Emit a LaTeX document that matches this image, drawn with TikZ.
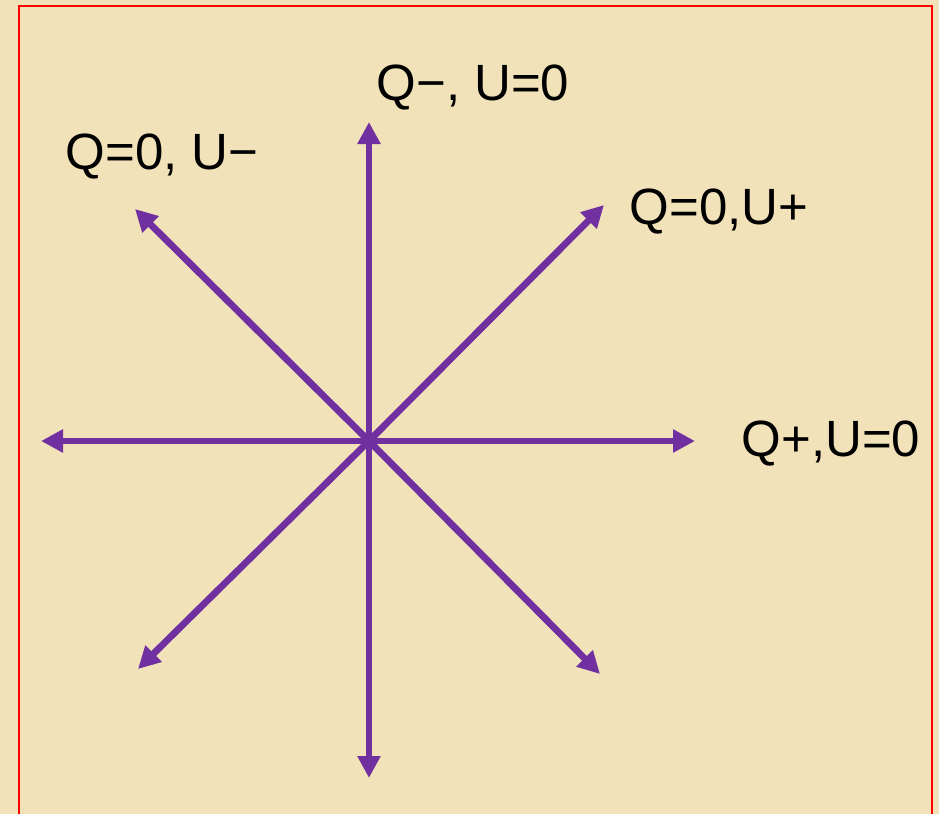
\documentclass[tikz,border=0pt]{standalone}
\usepackage{fontspec}
\setmainfont{Liberation Sans}
\usepackage{xcolor}
\usetikzlibrary{arrows.meta}
\definecolor{ppurple}{HTML}{7030A0}
\definecolor{pparch}{HTML}{F2E2BA}
\definecolor{pred}{HTML}{FF0000}

\begin{document}
\begin{tikzpicture}[
  x=0.5pt,y=-0.5pt,
  every node/.style={font=\fontsize{25.5}{30}\selectfont,inner sep=0pt},
  axis/.style={-{Triangle[length=11pt,width=11pt]},line width=3.4pt,color=ppurple},
  frame/.style={draw=pred,line width=1.2pt}
]
\fill[pparch] (0,0) rectangle (939,814);
\useasboundingbox (0,0) rectangle (939,814);
\draw[frame] (19,814) -- (19,6) -- (932,6) -- (932,814);
% centre and tips
\coordinate (o) at (369,441);
\coordinate (n) at (369,122);
\coordinate (s) at (369,778);
\coordinate (w) at (41,441);
\coordinate (e) at (695,441);
\coordinate (ne) at (604,205);
\coordinate (nw) at (135,209);
\coordinate (sw) at (138,669);
\coordinate (se) at (600,674);
\draw[axis] (o) -- (n);
\draw[axis] (o) -- (s);
\draw[axis] (o) -- (w);
\draw[axis] (o) -- (e);
\draw[axis] (o) -- (ne);
\draw[axis] (o) -- (nw);
\draw[axis] (o) -- (sw);
\draw[axis] (o) -- (se);
% labels
\node (qminus) at (473,88) {Q−, U=0};
\node (uminus) at (162,157) {Q=0, U−};
\node (uplus) at (719,212) {Q=0,U+};
\node (qplus) at (831,444) {Q+,U=0};
\end{tikzpicture}
\end{document}
